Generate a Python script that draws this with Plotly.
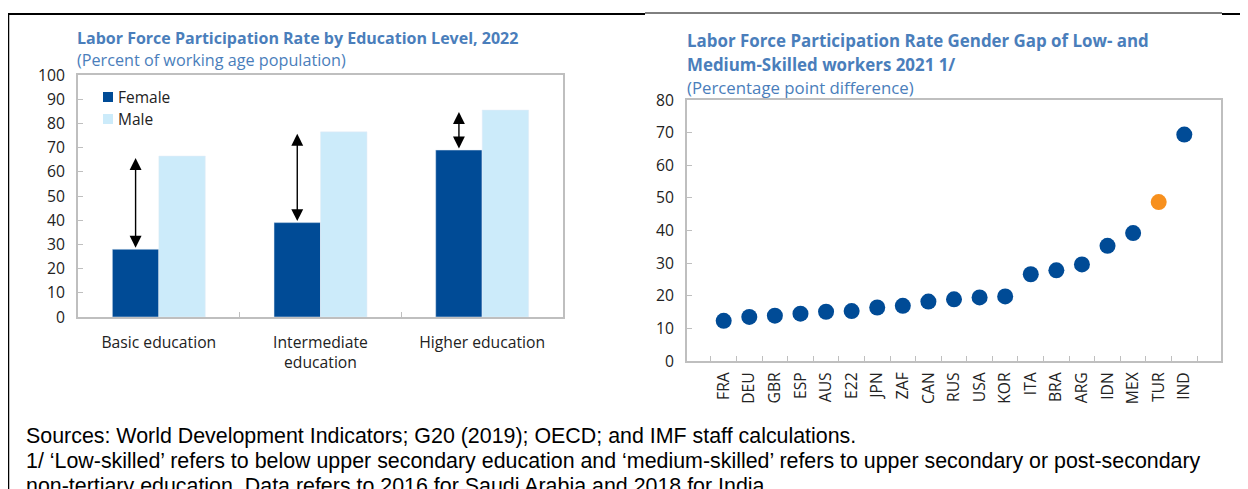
import plotly.graph_objects as go

# the page body adds an 8px margin, so the figure is drawn 8px smaller and shifted
OFF = 8
W, H = 1248 - OFF, 489 - OFF

# left chart data
edu_levels = ["Basic education", "Intermediate<br>education", "Higher education"]
female_rate = [28, 39, 69]
male_rate = [66.5, 76.5, 85.5]
sexes = ["Female", "Male"]

# right chart data
countries = ["FRA", "DEU", "GBR", "ESP", "AUS", "E22", "JPN", "ZAF", "CAN", "RUS",
             "USA", "KOR", "ITA", "BRA", "ARG", "IDN", "MEX", "TUR", "IND"]
gender_gap = [12.3, 13.5, 13.9, 14.5, 15.1, 15.3, 16.4, 16.9, 18.2, 18.9,
              19.5, 19.8, 26.6, 27.8, 29.6, 35.3, 39.2, 48.7, 69.4]
highlight = "TUR"

DARK = "#004B96"
LIGHT = "#CCEBFA"
ORANGE = "#F7901E"
TITLE_C = "#4A7EBB"
GRID_C = "#BFBFBF"
FONT = "Open Sans"


def px(x):
    return (x - OFF) / W


def py(y):
    return 1 - (y - OFF) / H


fig = go.Figure()

bar_colors = [DARK, LIGHT]
for name, vals, col in zip(sexes, [female_rate, male_rate], bar_colors):
    fig.add_trace(go.Bar(x=edu_levels, y=vals, name=name, marker_color=col,
                         showlegend=False, xaxis="x", yaxis="y"))

dot_colors = [ORANGE if c == highlight else DARK for c in countries]
fig.add_trace(go.Scatter(x=countries, y=gender_gap, mode="markers", showlegend=False,
                         marker=dict(size=16, color=dot_colors),
                         xaxis="x2", yaxis="y2"))

bargap = 0.425
half = (1 - bargap) / 4
annotations = []
shapes = []
# double-headed arrows showing the gap between female and male
for i, (f, m) in enumerate(zip(female_rate, male_rate)):
    annotations.append(dict(x=i - half, y=m, ax=i - half, ay=f, xref="x", yref="y",
                            axref="x", ayref="y", text="", showarrow=True,
                            arrowhead=2, startarrowhead=2, arrowside="end+start",
                            arrowsize=1.7, startarrowsize=1.7, arrowwidth=1.4,
                            arrowcolor="black", standoff=2, startstandoff=0))


def txt(x, y, s, size=14, bold=False, color=TITLE_C, font=FONT):
    if bold:
        s = "<b>" + s + "</b>"
    annotations.append(dict(x=px(x), y=py(y), xref="paper", yref="paper", text=s,
                            showarrow=False, xanchor="left", yanchor="middle",
                            font=dict(family=font, size=size, color=color)))


txt(75, 38, "Labor Force Participation Rate by Education Level, 2022", 16, True)
txt(75, 60, "(Percent of working age population)", 16.2)
txt(685, 40, "Labor Force Participation Rate Gender Gap of Low- and", 16.9, True)
txt(685, 64, "Medium-Skilled workers 2021 1/", 16.9, True)
txt(685, 87, "(Percentage point difference)", 16.8)

# legend drawn by hand: small square + label
for k, (name, col) in enumerate(zip(sexes, bar_colors)):
    yc = 97 + 22 * k
    shapes.append(dict(type="rect", xref="paper", yref="paper", x0=px(103), x1=px(113),
                       y0=py(yc + 5), y1=py(yc - 5), fillcolor=col, line=dict(width=0)))
    txt(116, yc, name, 15.5, color="#222")

foot = "Liberation Sans"
txt(24, 436, "Sources: World Development Indicators; G20 (2019); OECD; and IMF staff calculations.",
    21.4, color="black", font=foot)
txt(24, 461, "1/ \u2018Low-skilled\u2019 refers to below upper secondary education and \u2018medium-skilled\u2019"
    " refers to upper secondary or post-secondary", 21.4, color="black", font=foot)
txt(24, 486, "non-tertiary education. Data refers to 2016 for Saudi Arabia and 2018 for India.",
    21.4, color="black", font=foot)

shapes += [
    dict(type="line", xref="paper", yref="paper", x0=px(8.5), x1=px(8.5), y0=py(13), y1=py(489),
         line=dict(color="black", width=1.5)),
    dict(type="line", xref="paper", yref="paper", x0=px(8), x1=px(645), y0=py(14), y1=py(14),
         line=dict(color="black", width=2)),
    dict(type="line", xref="paper", yref="paper", x0=px(645), x1=px(1222), y0=py(13), y1=py(13),
         line=dict(color="black", width=1)),
    dict(type="line", xref="paper", yref="paper", x0=px(1222), x1=px(1248), y0=py(14), y1=py(14),
         line=dict(color="black", width=2)),
]

axis_common = dict(showline=True, mirror=True, linecolor=GRID_C, linewidth=2,
                   showgrid=False, zeroline=False, ticks="inside", ticklen=5,
                   tickcolor=GRID_C, automargin=False,
                   tickfont=dict(family=FONT, size=15.7, color="#222"))

fig.update_layout(
    width=W, height=H, margin=dict(l=0, r=0, t=0, b=0),
    paper_bgcolor="white", plot_bgcolor="white",
    barmode="group", bargap=bargap, bargroupgap=0,
    font=dict(family=FONT),
    showlegend=False,
    xaxis=dict(domain=[px(78), px(563)], anchor="y", type="category", tickson="boundaries",
               ticklabelstandoff=10, **axis_common),
    yaxis=dict(domain=[py(317), py(75)], anchor="x", range=[0, 100], dtick=10,
               ticklabelstandoff=8, **axis_common),
    xaxis2=dict(domain=[px(687), px(1221)], anchor="y2", type="category", tickson="boundaries",
                tickangle=-90, ticklabelstandoff=3, **axis_common),
    yaxis2=dict(domain=[py(361), py(100)], anchor="x2", range=[0, 80], dtick=10,
                ticklabelstandoff=8, **axis_common),
    annotations=annotations,
    shapes=shapes,
)

fig.write_html("out.html")
